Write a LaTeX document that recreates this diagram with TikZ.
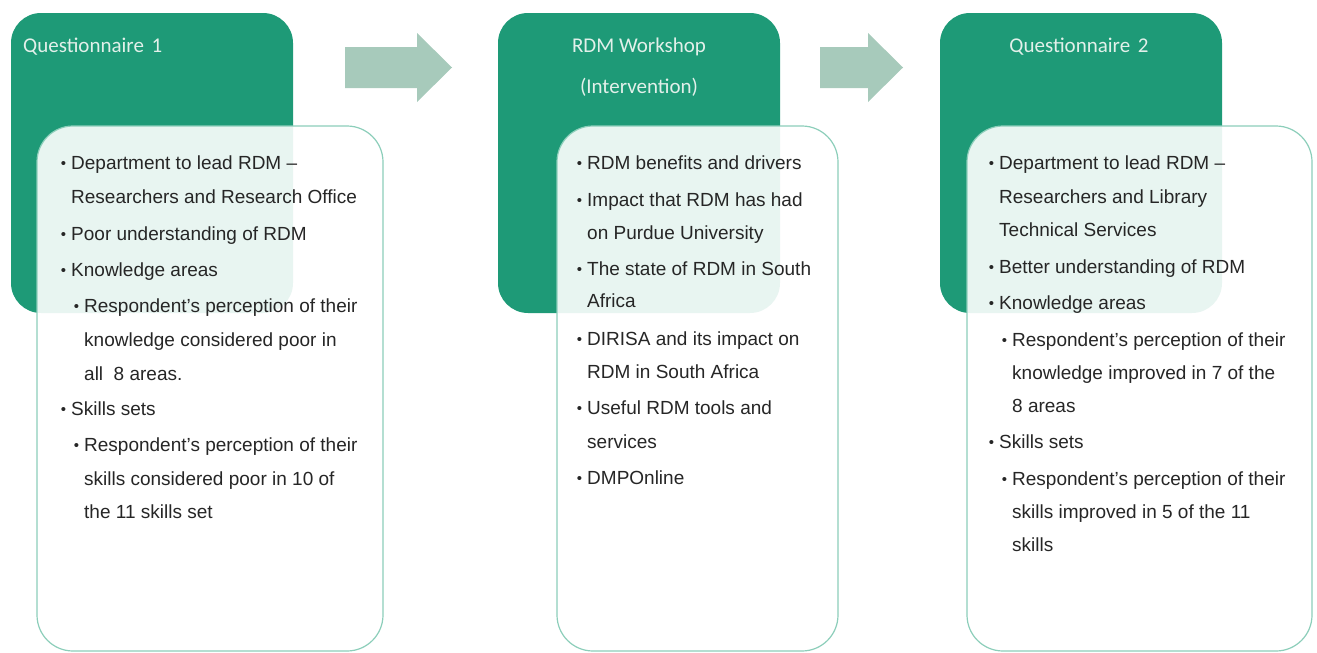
\documentclass[tikz,border=0pt]{standalone}
\usepackage{fontspec}
\setmainfont{Liberation Sans}
\newfontfamily\titlefont{Carlito}
\begin{document}
\definecolor{stagegreen}{RGB}{30,154,119}
\definecolor{titletext}{RGB}{226,240,234}
\definecolor{panelline}{RGB}{140,206,186}
\definecolor{flowarrow}{RGB}{167,202,187}
\newcommand{\bul}{\llap{{\fontsize{15}{15}\selectfont\raisebox{0.5pt}{\textbullet}}\hspace{5pt}}}
\tikzset{
  stagebox/.style={fill=stagegreen, rounded corners=30pt, draw=none, inner sep=0pt},
  panel/.style={fill=white, fill opacity=0.9, draw=panelline, line width=1.2pt, rounded corners=36pt, inner sep=0pt},
  stagetitle/.style={text=titletext, font=\titlefont\fontsize{21}{21}\selectfont, inner sep=0pt},
  itemline/.style={anchor=base west, inner sep=0pt, text=black!85, font=\fontsize{19}{19}\selectfont},
  blockarrow/.style={fill=flowarrow, draw=none}
}
\begin{tikzpicture}[x=1pt,y=-1pt]
\useasboundingbox (0,0) rectangle (1317,653);

% ---- stage 1: first questionnaire ----
\node[stagebox, minimum width=282pt, minimum height=300pt] (g1) at (152,163) {};
\node[stagetitle, anchor=west] (t1) at (23,47) {Questionnaire \kern3pt 1};
\node[panel, minimum width=346pt, minimum height=525pt] (p1) at (210,388.5) {};
\node[itemline] (a1) at (71,169) {\bul Department to lead RDM –};
\node[itemline] (a2) at (71,203) {Researchers and Research Office};
\node[itemline] (a3) at (71,240) {\bul Poor understanding of RDM};
\node[itemline] (a4) at (71,276) {\bul Knowledge areas};
\node[itemline] (a5) at (84,312) {\bul Respondent’s perception of their};
\node[itemline] (a6) at (84,346) {knowledge considered poor in};
\node[itemline] (a7) at (84,380) {all \ 8 areas.};
\node[itemline] (a8) at (71,415) {\bul Skills sets};
\node[itemline] (a9) at (84,451) {\bul Respondent’s perception of their};
\node[itemline] (a10) at (84,485) {skills considered poor in 10 of};
\node[itemline] (a11) at (84,518) {the 11 skills set};

% ---- stage 2: workshop ----
\node[stagebox, minimum width=282pt, minimum height=300pt] (g2) at (639,163) {};
\node[stagetitle] (t2a) at (639,47) {RDM Workshop};
\node[stagetitle] (t2b) at (639,87) {(Intervention)};
\node[panel, minimum width=281pt, minimum height=525pt] (p2) at (697.5,388.5) {};
\node[itemline] (b1) at (587,169) {\bul RDM benefits and drivers};
\node[itemline] (b2) at (587,206) {\bul Impact that RDM has had};
\node[itemline] (b3) at (587,239) {on Purdue University};
\node[itemline] (b4) at (587,275) {\bul The state of RDM in South};
\node[itemline] (b5) at (587,307) {Africa};
\node[itemline] (b6) at (587,345) {\bul DIRISA and its impact on};
\node[itemline] (b7) at (587,378) {RDM in South Africa};
\node[itemline] (b8) at (587,414) {\bul Useful RDM tools and};
\node[itemline] (b9) at (587,448) {services};
\node[itemline] (b10) at (587,484) {\bul DMPOnline};

% ---- stage 3: second questionnaire ----
\node[stagebox, minimum width=282pt, minimum height=300pt] (g3) at (1081,163) {};
\node[stagetitle] (t3) at (1079,47) {Questionnaire \kern3pt 2};
\node[panel, minimum width=345pt, minimum height=525pt] (p3) at (1139.5,388.5) {};
\node[itemline] (c1) at (999,169) {\bul Department to lead RDM –};
\node[itemline] (c2) at (999,203) {Researchers and Library};
\node[itemline] (c3) at (999,236) {Technical Services};
\node[itemline] (c4) at (999,273) {\bul Better understanding of RDM};
\node[itemline] (c5) at (999,309) {\bul Knowledge areas};
\node[itemline] (c6) at (1012,346) {\bul Respondent’s perception of their};
\node[itemline] (c7) at (1012,379) {knowledge improved in 7 of the};
\node[itemline] (c8) at (1012,412) {8 areas};
\node[itemline] (c9) at (999,448) {\bul Skills sets};
\node[itemline] (c10) at (1012,485) {\bul Respondent’s perception of their};
\node[itemline] (c11) at (1012,518) {skills improved in 5 of the 11};
\node[itemline] (c12) at (1012,551) {skills};

% ---- block arrows between stages ----
\coordinate (s1) at (345,67.5);
\coordinate (s2) at (820,67.5);
\fill[blockarrow] (s1) ++(0,-20.5) -- ++(72,0) -- ++(0,-14) -- ++(35,34.5)
  -- ++(-35,34.5) -- ++(0,-14) -- ++(-72,0) -- cycle;
\fill[blockarrow] (s2) ++(0,-20.5) -- ++(48,0) -- ++(0,-14) -- ++(35,34.5)
  -- ++(-35,34.5) -- ++(0,-14) -- ++(-48,0) -- cycle;
\end{tikzpicture}
\end{document}
